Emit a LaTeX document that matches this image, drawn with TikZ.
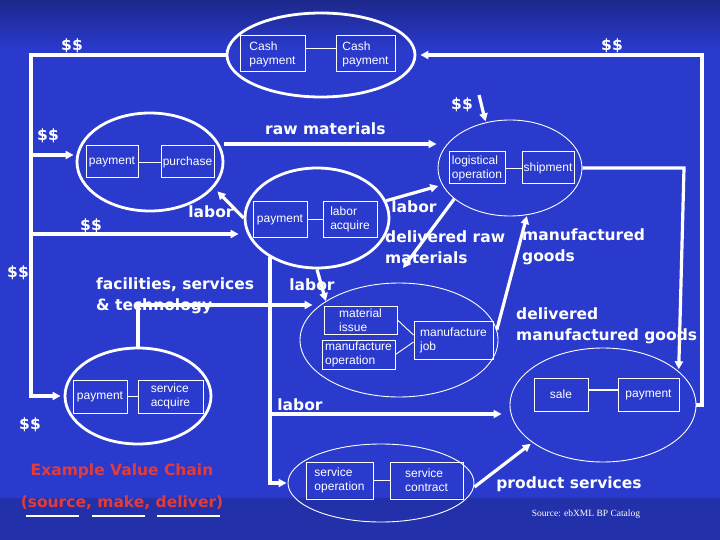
\documentclass[tikz,border=0pt]{standalone}
\usepackage{fontspec}
\setmainfont{Liberation Sans}
\newfontfamily\lblfont{DejaVu Sans}
\newfontfamily\srcfont{Liberation Serif}
\usetikzlibrary{shapes.geometric,arrows.meta,calc}
\definecolor{bgmain}{RGB}{42,58,205}
\definecolor{bgtop}{RGB}{28,40,140}
\definecolor{bgbot}{RGB}{34,48,170}
\definecolor{chainred}{RGB}{225,60,60}
\begin{document}
\begin{tikzpicture}[x=1pt,y=-1pt,
  ell/.style={ellipse, draw=white, inner sep=0pt},
  thickell/.style={ell, line width=2.8pt},
  thinell/.style={ell, line width=0.9pt},
  box/.style={draw=white, line width=1pt, text=white, font=\fontsize{12}{14}\selectfont, align=left, inner sep=1pt},
  link/.style={draw=white, line width=0.9pt},
  flow/.style={draw=white, line width=3.2pt, -{Triangle[length=8pt,width=8pt]}},
  lbl/.style={text=white, font=\lblfont\bfseries\fontsize{15.5}{21}\selectfont, align=left, inner sep=0pt},
]
\useasboundingbox (0,0) rectangle (720,540);
% background
\fill[bgmain] (0,0) rectangle (720,540);
\shade[top color=bgtop, bottom color=bgmain] (0,0) rectangle (720,50);
\fill[bgbot] (0,498) rectangle (720,540);

% ellipses
\node[thickell, minimum width=188pt, minimum height=84pt] (Ecash) at (321,55) {};
\node[thickell, minimum width=146pt, minimum height=98pt] (Epur) at (150,162) {};
\node[thickell, minimum width=144pt, minimum height=100pt] (Elab) at (317,218) {};
\node[thinell, minimum width=144pt, minimum height=96pt] (Elog) at (510,168) {};
\node[thinell, minimum width=198pt, minimum height=114pt] (Eman) at (399,340) {};
\node[thickell, minimum width=146pt, minimum height=96pt] (Esac) at (138,396) {};
\node[thinell, minimum width=186pt, minimum height=78pt] (Esop) at (381,483) {};
\node[thinell, minimum width=186pt, minimum height=114pt] (Esal) at (603,405) {};

% boxes
\node[box, minimum width=65pt, minimum height=36pt] (cash1) at (272.5,54) {Cash\\payment};
\node[box, minimum width=59pt, minimum height=36pt] (cash2) at (365.5,54) {Cash\\payment};
\node[box, minimum width=52pt, minimum height=32pt] (pay1) at (112,162) {payment};
\node[box, minimum width=53pt, minimum height=32pt] (purch) at (187.5,162) {purchase};
\node[box, minimum width=54pt, minimum height=35pt] (pay2) at (280,219.5) {payment};
\node[box, minimum width=54pt, minimum height=35pt] (lacq) at (350,219.5) {labor\\acquire};
\node[box, minimum width=56pt, minimum height=32pt] (logop) at (477,168) {logistical\\operation};
\node[box, minimum width=52pt, minimum height=32pt] (ship) at (548,168) {shipment};
\node[box, minimum width=73pt, minimum height=28pt] (mati) at (360.5,320) {material\\issue};
\node[box, minimum width=73pt, minimum height=29pt] (mop) at (358.5,354.5) {manufacture\\operation};
\node[box, minimum width=79pt, minimum height=38pt] (mjob) at (453.5,340) {manufacture\\job};
\node[box, minimum width=54pt, minimum height=33pt] (pay3) at (100,396.5) {payment};
\node[box, minimum width=65pt, minimum height=33pt] (sacq) at (170.5,396.5) {service\\acquire};
\node[box, minimum width=67pt, minimum height=37pt] (sop) at (339.5,480.5) {service\\operation};
\node[box, minimum width=73pt, minimum height=37pt] (scon) at (426.5,480.5) {service\\contract};
\node[box, minimum width=54pt, minimum height=33pt] (sale) at (561,394.5) {sale};
\node[box, minimum width=61pt, minimum height=33pt] (pay4) at (648.5,394.5) {payment};

% box links
\draw[link] ([yshift=6pt]cash1.east) -- ([yshift=6pt]cash2.west);
\draw[link] (pay1) -- (purch);
\draw[link] (pay2) -- (lacq);
\draw[link] (logop) -- (ship);
\draw[link] (mati.east) -- ([yshift=5pt]mjob.west);
\draw[link] (mop.east) -- ([yshift=-2pt]mjob.west);
\draw[link] (pay3) -- (sacq);
\draw[link] (sop) -- (scon);
\draw[white, line width=2.5pt] ([yshift=4.5pt]sale.east) -- ([yshift=4.5pt]pay4.west);

% coordinates
\coordinate (L1) at (31,55);
\coordinate (L2) at (31,396);
\coordinate (L3) at (31,155);
\coordinate (L4) at (31,234);
\coordinate (R1) at (702,405);
\coordinate (R2) at (702,55);
\coordinate (S1) at (684,168);
\coordinate (D1) at (479,95);
\coordinate (DR) at (403,268);
\coordinate (LB) at (271,414);

% flows
\draw[flow, shorten >=3pt] (Ecash.west) -- (L1) -- (L2) -- (Esac.west);
\draw[flow, shorten >=2pt] (L3) -- (L3 -| Epur.west);
\draw[flow, shorten >=5pt] (L4) -- (L4 -| Elab.west);
\draw[flow, shorten >=4pt] (Esal.east) -- (R1) -- (R2) -- (Ecash.east);
\draw[flow, shorten >=2pt] (Elog.east) -- (S1) -- (Esal.24);
\draw[flow, shorten >=1pt] (D1) -- (Elog.118);
\draw[flow, shorten >=1pt] ([yshift=18pt]Epur.east) -- ([yshift=24pt]Elog.west);
\draw[flow, shorten >=5pt] (Elab.west) -- (Epur.-22);
\draw[flow, shorten >=4pt] (Elab.14) -- (Elog.194);
\draw[flow] (Elog.209) -- (DR);
\draw[flow, shorten >=1pt] (Eman.6) -- (Elog.-70);
\draw[flow] (Elab.south) -- (Eman.152);
\draw[flow] (Esac.north) |- ([xshift=13pt,yshift=35pt]Eman.west);
\draw[flow, shorten >=1pt] (Elab.220) |- (Esop.west);
\draw[flow, shorten >=8pt] (LB) -- ([yshift=-9pt]Esal.west);
\draw[flow, shorten >=2pt] ([yshift=-4pt]Esop.east) -- (Esal.208);

% labels
\node[lbl] (d1) at (72,46) {\$\$};
\node[lbl] (d2) at (48,136) {\$\$};
\node[lbl] (d3) at (91,226) {\$\$};
\node[lbl] (d4) at (18,273) {\$\$};
\node[lbl] (d5) at (30,425) {\$\$};
\node[lbl] (d6) at (612,46) {\$\$};
\node[lbl] (d7) at (462,105) {\$\$};
\node[lbl, anchor=west] (rawm) at (265,129) {raw materials};
\node[lbl] (lab1) at (211,212) {labor};
\node[lbl] (lab2) at (414,207) {labor};
\node[lbl] (lab3) at (312,285) {labor};
\node[lbl] (lab4) at (300,405) {labor};
\node[lbl, anchor=west] (drm) at (385,247) {delivered raw\\materials};
\node[lbl, anchor=west] (mg) at (522,247) {manufactured\\goods};
\node[lbl, anchor=west] (dmg) at (516,326) {delivered\\manufactured goods};
\node[lbl, anchor=west] (fst) at (96,296) {facilities, services\\\& technology};
\node[lbl] (ps) at (569,484) {product services};
\node[lbl, text=chainred] (evc) at (122,471) {Example Value Chain};
\node[lbl, text=chainred] (smd) at (122,503) {(source, make, deliver)};
\draw[white, line width=1.2pt] (26,516) -- (79,516);
\draw[white, line width=1.2pt] (92,516) -- (145,516);
\draw[white, line width=1.2pt] (157,516) -- (220,516);
\node[text=white, font=\srcfont\fontsize{9.5}{11}\selectfont] (src) at (586,514) {Source: ebXML BP Catalog};
\end{tikzpicture}
\end{document}
